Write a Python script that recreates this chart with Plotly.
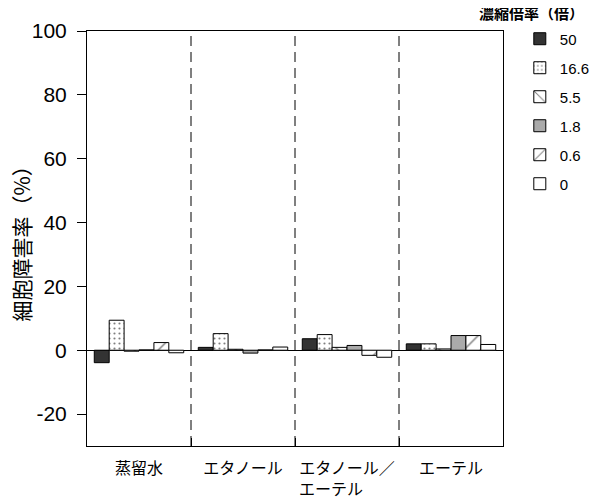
import plotly.graph_objects as go

# 溶媒（カテゴリ）
categories = ["蒸留水", "エタノール", "エタノール／<br>エーテル\u3000\u3000", "エーテル"]

# 濃縮倍率ごとの細胞障害率（%）
conc_names = ["50", "16.6", "5.5", "1.8", "0.6", "0"]
val_50 = [-3.9, 0.9, 3.6, 2.0]
val_16_6 = [9.4, 5.2, 4.9, 2.0]
val_5_5 = [-0.3, 0.3, 0.9, 0.4]
val_1_8 = [0.1, -0.9, 1.5, 4.6]
val_0_6 = [2.4, 0.1, -1.6, 4.6]
val_0 = [-0.8, 1.0, -2.2, 1.8]

y_tick_vals = [-20, 0, 20, 40, 60, 80, 100]
y_tick_text = ["-20", "0", "20", "40", "60", "80", "100"]

series = [val_50, val_16_6, val_5_5, val_1_8, val_0_6, val_0]

# fill / pattern for each series
styles = [
    dict(color="#333333", pattern=dict(shape="")),
    dict(color="white", pattern=dict(shape=".", fgcolor="black", bgcolor="white",
                                     size=5, solidity=0.15, fillmode="overlay")),
    dict(color="white", pattern=dict(shape="\\", fgcolor="black", bgcolor="white",
                                     size=12, solidity=0.12, fillmode="overlay")),
    dict(color="#aaaaaa", pattern=dict(shape="")),
    dict(color="white", pattern=dict(shape="/", fgcolor="black", bgcolor="white",
                                     size=12, solidity=0.12, fillmode="overlay")),
    dict(color="white", pattern=dict(shape="")),
]

fig = go.Figure()
for i, (name, vals) in enumerate(zip(conc_names, series)):
    st = styles[i]
    fig.add_trace(go.Bar(
        x=categories, y=vals, name=name,
        legendgroup=name,
        marker=dict(color=st["color"], pattern=st["pattern"],
                    line=dict(color="black", width=1)),
    ))

# dashed separators between solvents
for xb in [0.5, 1.5, 2.5]:
    fig.add_shape(type="line", xref="x", yref="paper", x0=xb, x1=xb, y0=0, y1=1,
                  line=dict(color="black", width=1, dash="10px,6px"))

# legend heading
fig.add_annotation(text="濃縮倍率（倍）", xref="paper", yref="paper",
                   x=1.1995, y=1.0435, xanchor="right", yanchor="middle",
                   showarrow=False,
                   font=dict(family="Noto Sans CJK JP", size=15, color="black", weight="bold"))

# y axis title (annotation so it can sit closer to the edge)
fig.add_annotation(text="細胞障害率（%）", xref="paper", yref="paper",
                   x=-0.161, y=0.5, xanchor="center", yanchor="middle",
                   textangle=-90, showarrow=False,
                   font=dict(family="Noto Sans CJK JP", size=21, color="black"))

# page body has an 8px margin, so margins are shifted to line up with the window
fig.update_layout(
    width=600, height=499,
    margin=dict(l=79, r=105, t=23, b=61),
    paper_bgcolor="white", plot_bgcolor="white",
    barmode="group", bargap=0.14, bargroupgap=0,
    font=dict(family="Liberation Sans, Arial, sans-serif", color="black"),
    legend=dict(
        xref="container", yref="container", x=0.853, y=0.971,
        xanchor="left", yanchor="top",
        traceorder="grouped", tracegroupgap=6.5,
        font=dict(size=15, family="Liberation Sans, Arial, sans-serif"),
        bgcolor="rgba(0,0,0,0)",
    ),
)

fig.update_xaxes(
    showline=True, linecolor="black", linewidth=1, mirror=True,
    ticks="inside", ticklen=8, tickcolor="black", tickson="boundaries",
    tickangle=0, automargin=False, ticklabelstandoff=8,
    tickfont=dict(family="Noto Sans CJK JP", size=16, color="black"),
    showgrid=False,
)
fig.update_yaxes(
    range=[-30, 100], tickvals=y_tick_vals, ticktext=y_tick_text,
    showline=True, linecolor="black", linewidth=1, mirror=True,
    ticks="outside", ticklen=9, tickcolor="black", ticklabelstandoff=6,
    automargin=False,
    tickfont=dict(size=21, color="black"),
    showgrid=False, zeroline=True, zerolinecolor="black", zerolinewidth=1,
)

fig.write_html("out.html")
